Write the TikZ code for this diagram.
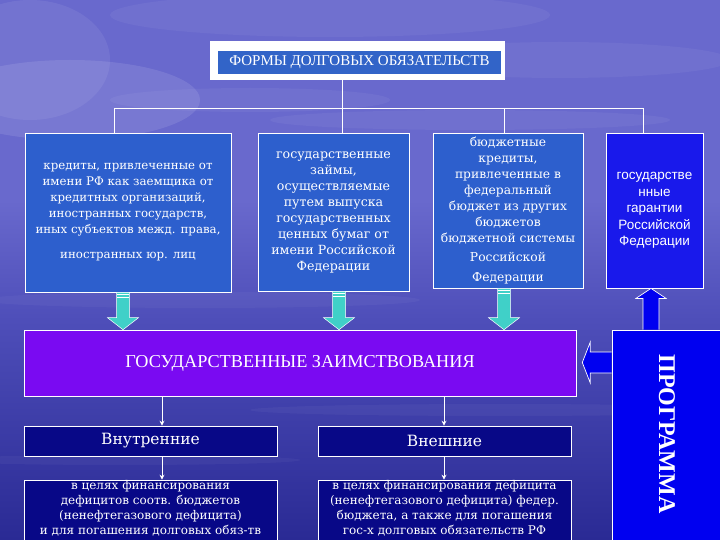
\documentclass[tikz,border=0pt]{standalone}
\usepackage{fontspec}
\setmainfont{Liberation Serif}
\newfontfamily\dvs{DejaVu Serif}
\newfontfamily\lsans{Liberation Sans}
\usetikzlibrary{calc,arrows.meta}
\definecolor{bgtop}{RGB}{105,105,205}
\definecolor{bgmid}{RGB}{78,78,185}
\definecolor{bgbot}{RGB}{42,42,148}
\definecolor{midblue}{RGB}{45,95,205}
\definecolor{titleblue}{RGB}{50,100,200}
\definecolor{brightblue}{RGB}{25,25,235}
\definecolor{progblue}{RGB}{0,0,240}
\definecolor{zpurple}{RGB}{122,10,242}
\definecolor{navy}{RGB}{8,8,135}
\definecolor{turq}{RGB}{64,208,200}
\tikzset{
  conn/.style={draw=white, line width=0.8pt},
  thinarr/.style={draw=white, line width=0.8pt, -{Stealth[length=5pt,width=5pt]}},
  upbox/.style={draw=white, line width=0.8pt, fill=midblue, text=white, align=center, inner sep=2pt},
  navybox/.style={draw=white, line width=0.6pt, fill=navy, text=white, align=center, inner sep=1pt},
  cyanarr/.style={draw=white, line width=0.5pt, fill=turq},
  bluearr/.style={draw=white, line width=0.7pt, fill=progblue},
}
\newcommand\bdown[2]{%
 \draw[cyanarr] let \p1=(#1), \p2=(#2) in
  (\x1-6.5pt,\y1) -- (\x1+6.5pt,\y1) -- (\x1+6.5pt,\y2+12pt) -- (\x1+15.5pt,\y2+12pt) -- (\x1,\y2) -- (\x1-15.5pt,\y2+12pt) -- (\x1-6.5pt,\y2+12pt) -- cycle;
 \draw[white, line width=0.9pt] let \p1=(#1) in (\x1-6pt,\y1-2.5pt) -- (\x1+6pt,\y1-2.5pt) (\x1-6pt,\y1-5.5pt) -- (\x1+6pt,\y1-5.5pt);}
\begin{document}
\begin{tikzpicture}[x=1pt,y=-1pt]
\useasboundingbox (0,0) rectangle (720,540);
\clip (0,0) rectangle (720,540);
% background
\fill[bgtop] (0,0) rectangle (720,200);
\shade[top color=bgtop, bottom color=bgmid] (0,200) rectangle (720,320);
\shade[top color=bgmid, bottom color=bgbot] (0,320) rectangle (720,540);
\fill[white, opacity=0.10] (70,100) ellipse [x radius=130, y radius=40];
\fill[white, opacity=0.07] (30,60) ellipse [x radius=80, y radius=60];
\fill[white, opacity=0.05] (330,15) ellipse [x radius=220, y radius=22];
\fill[white, opacity=0.05] (560,60) ellipse [x radius=170, y radius=18];
\fill[white, opacity=0.05] (250,100) ellipse [x radius=140, y radius=12];
\fill[white, opacity=0.05] (470,120) ellipse [x radius=200, y radius=10];
\fill[white, opacity=0.04] (200,300) ellipse [x radius=220, y radius=8];
\fill[white, opacity=0.04] (500,410) ellipse [x radius=250, y radius=6];
\fill[white, opacity=0.04] (120,460) ellipse [x radius=180, y radius=5];

% title
\node[fill=white, minimum width=295, minimum height=39, inner sep=0] (t0) at (357.5,60.5) {};
\node[fill=titleblue, text=white, minimum width=283, minimum height=23, inner sep=0,
      font=\fontsize{15}{17}\selectfont] (t) at (359.5,62.5) {ФОРМЫ ДОЛГОВЫХ ОБЯЗАТЕЛЬСТВ};

% upper boxes
\node[upbox, minimum width=206, minimum height=159, font=\dvs\fontsize{11.8}{16}\selectfont] (b1) at (128,212.5)
 {кредиты, привлеченные от\\имени РФ как заемщика от\\кредитных организаций,\\иностранных государств,\\иных субъектов межд. права,\\[9pt]иностранных юр. лиц};
\node[upbox, minimum width=151, minimum height=158, font=\dvs\fontsize{12.6}{16}\selectfont] (b2) at (333.5,212)
 {государственные\\займы,\\осуществляемые\\путем выпуска\\государственных\\ценных бумаг от\\имени Российской\\Федерации};
\node[upbox, minimum width=150, minimum height=155, font=\dvs\fontsize{12.3}{16}\selectfont] (b3) at (508,210.5)
 {бюджетные\\кредиты,\\привлеченные в\\федеральный\\бюджет из других\\бюджетов\\бюджетной системы\\[3pt]Российской\\[4pt]Федерации};
\node[upbox, fill=brightblue, minimum width=97, minimum height=155, font=\lsans\fontsize{13.5}{16.5}\selectfont] (b4) at (654.5,210.5)
 {государстве\\нные\\гарантии\\Российской\\Федерации};

% tree connectors
\coordinate (j) at (342,108);
\coordinate (h1) at (114,108);
\coordinate (h3) at (504,108);
\coordinate (h4) at (643,108);
\draw[conn] (t0.south -| j) -- (j |- b2.north);
\draw[conn] (h1) -- (h4);
\draw[conn] (h1) -- (h1 |- b1.north);
\draw[conn] (h3) -- (h3 |- b3.north);
\draw[conn] (h4) -- (h4 |- b4.north);

% middle
\node[draw=white, line width=0.6pt, fill=zpurple, text=white, minimum width=552, minimum height=66, inner sep=0,
      font=\fontsize{18.2}{20}\selectfont] (zaim) at (300,363) {ГОСУДАРСТВЕННЫЕ ЗАИМСТВОВАНИЯ};
\node[draw=white, line width=0.6pt, fill=progblue, minimum width=110, minimum height=215, inner sep=0] (prog) at (667,437.5) {};
\node[text=white, rotate=-90, font=\bfseries\fontsize{24}{26}\selectfont, inner sep=0] (progt) at (667,434) {ПРОГРАММА};

% block arrows
\coordinate (a1) at (123,0);
\coordinate (a2) at (339,0);
\coordinate (a3) at (504,0);
\bdown{b1.south -| a1}{zaim.north -| a1}
\bdown{b2.south -| a2}{zaim.north -| a2}
\bdown{b3.south -| a3}{zaim.north -| a3}
\coordinate (a4) at (651,0);
\draw[bluearr] let \p1=(prog.north -| a4), \p2=(b4.south -| a4) in
  (\x1-8pt,\y1) -- (\x1-8pt,\y2-10pt) -- (\x1-15pt,\y2-10pt) -- (\x1,\y2) -- (\x1+15pt,\y2-10pt) -- (\x1+8pt,\y2-10pt) -- (\x1+8pt,\y1);
\coordinate (a5) at (0,362.5);
\draw[bluearr] let \p1=(prog.west |- a5), \p2=($(zaim.east |- a5)+(6,0)$) in
  (\x1,\y1+10.5pt) -- (\x2+8pt,\y1+10.5pt) -- (\x2+8pt,\y1+20.5pt) -- (\x2,\y1) -- (\x2+8pt,\y1-20.5pt) -- (\x2+8pt,\y1-10.5pt) -- (\x1,\y1-10.5pt);

% lower
\node[navybox, minimum width=253, minimum height=30, font=\dvs\fontsize{15.5}{17}\selectfont] (vn) at (150.5,441) {Внутренние};
\node[navybox, minimum width=253, minimum height=30, font=\dvs\fontsize{15.5}{17}\selectfont] (vv) at (444.5,441) {Внешние};
\node[navybox, minimum width=253, minimum height=70] (vn2) at (150.5,515) {};
\node[navybox, minimum width=253, minimum height=70] (vv2) at (444.5,515) {};
\node[text=white, align=center, inner sep=0, font=\dvs\fontsize{12}{15}\selectfont] (vn2t) at (150.5,508)
 {в целях финансирования\\дефицитов соотв. бюджетов\\(ненефтегазового дефицита)\\и для погашения долговых обяз-тв};
\node[text=white, align=center, inner sep=0, font=\dvs\fontsize{12}{15}\selectfont] (vv2t) at (444.5,508)
 {в целях финансирования дефицита\\(ненефтегазового дефицита) федер.\\бюджета, а также для погашения\\гос-х долговых обязательств РФ};
\coordinate (c1) at (162,0);
\coordinate (c2) at (444,0);
\draw[thinarr] (zaim.south -| c1) -- (vn.north -| c1);
\draw[thinarr] (zaim.south -| c2) -- (vv.north -| c2);
\draw[thinarr] (vn.south -| c1) -- (vn2.north -| c1);
\draw[thinarr] (vv.south -| c2) -- (vv2.north -| c2);
\end{tikzpicture}
\end{document}
